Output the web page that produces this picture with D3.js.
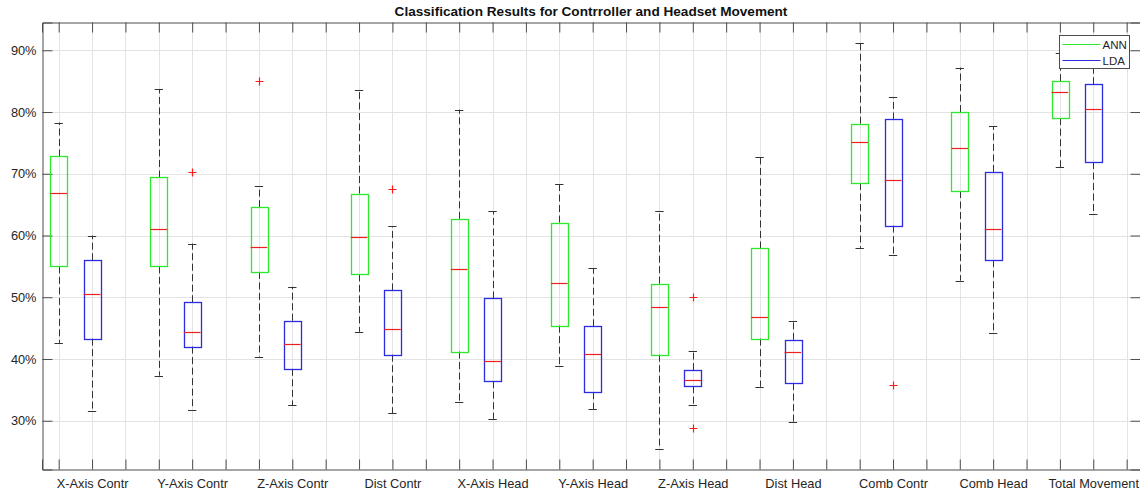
<!DOCTYPE html>
<html>
<head>
<meta charset="utf-8">
<script src="https://cdn.jsdelivr.net/npm/d3@7"></script>
<style>
  html, body { margin: 0; padding: 0; background: #fff; }
  svg { display: block; }
  text { font-family: Arial, "Liberation Sans", Helvetica, sans-serif; }
</style>
</head>
<body>
<svg id="chart" width="1140" height="493"></svg>
<script>
// Group labels (one per pair of boxes)
const categories = ["X-Axis Contr", "Y-Axis Contr", "Z-Axis Contr", "Dist Contr",
  "X-Axis Head", "Y-Axis Head", "Z-Axis Head", "Dist Head",
  "Comb Contr", "Comb Head", "Total Movement"];

const seriesNames = ["ANN", "LDA"];

// ANN accuracy statistics (%)
const annLowerWhisker = [42.6, 37.3, 40.4, 44.4, 33.0, 38.9, 25.4, 35.5, 58.0, 52.7, 71.1];
const annQ1           = [55.0, 55.0, 54.1, 53.7, 41.2, 45.4, 40.7, 43.3, 68.5, 67.2, 79.0];
const annMedian       = [66.9, 61.1, 58.2, 59.7, 54.6, 52.3, 48.4, 46.8, 75.1, 74.2, 83.3];
const annQ3           = [72.8, 69.4, 64.6, 66.8, 62.7, 62.1, 52.2, 57.9, 78.1, 80.0, 85.0];
const annUpperWhisker = [78.3, 83.7, 68.0, 83.5, 80.4, 68.4, 63.9, 72.7, 91.2, 87.2, 89.6];
const annOutliers     = [[], [], [85.1], [], [], [], [], [], [], [], []];

// LDA accuracy statistics (%)
const ldaLowerWhisker = [31.5, 31.8, 32.5, 31.2, 30.3, 31.9, 32.5, 29.8, 56.8, 44.2, 63.5];
const ldaQ1           = [43.3, 42.0, 38.4, 40.7, 36.4, 34.6, 35.6, 36.1, 61.6, 56.0, 71.9];
const ldaMedian       = [50.5, 44.4, 42.4, 44.9, 39.6, 40.8, 36.6, 41.1, 69.0, 61.1, 80.5];
const ldaQ3           = [56.0, 49.2, 46.2, 51.1, 49.8, 45.3, 38.2, 43.1, 78.8, 70.3, 84.5];
const ldaUpperWhisker = [60.0, 58.7, 51.7, 61.5, 63.9, 54.7, 41.3, 46.2, 82.4, 77.7, 88.3];
const ldaOutliers     = [[], [70.3], [], [67.6], [], [], [50.0, 28.9], [], [35.8], [], []];

// Y-axis tick values
const yTicks = [30, 40, 50, 60, 70, 80, 90];

const svg = d3.select("#chart");
const plot = { left: 42, right: 1140, top: 22.5, bottom: 469.5 };

const nSlots = categories.length * 3;           // ANN, LDA, spacer per group
const x = d3.scaleLinear().domain([0.5, 33.4]).range([plot.left, plot.right]);
const y = d3.scaleLinear().domain([22.1, 94.5]).range([plot.bottom, plot.top]);

const colors = { ANN: "#2ee82e", LDA: "#2b2be0" };
const axisColor = "#4d4d4d";
const gridColor = "#e3e3e3";
const crisp = v => Math.round(v) + 0.5;

// Build the table of boxes from the named arrays
const boxes = [];
categories.forEach((c, i) => {
  boxes.push({ series: "ANN", pos: i * 3 + 1, lo: annLowerWhisker[i], q1: annQ1[i], med: annMedian[i],
    q3: annQ3[i], hi: annUpperWhisker[i], out: annOutliers[i] });
  boxes.push({ series: "LDA", pos: i * 3 + 2, lo: ldaLowerWhisker[i], q1: ldaQ1[i], med: ldaMedian[i],
    q3: ldaQ3[i], hi: ldaUpperWhisker[i], out: ldaOutliers[i] });
});

const slots = d3.range(1, nSlots + 1);

// Grid
const grid = svg.append("g");
grid.selectAll("line.gx").data(slots).join("line")
  .attr("x1", d => crisp(x(d))).attr("x2", d => crisp(x(d)))
  .attr("y1", plot.top).attr("y2", plot.bottom)
  .attr("stroke", gridColor).attr("stroke-width", 1);
grid.selectAll("line.gy").data(yTicks).join("line")
  .attr("y1", d => crisp(y(d))).attr("y2", d => crisp(y(d)))
  .attr("x1", plot.left).attr("x2", plot.right)
  .attr("stroke", gridColor).attr("stroke-width", 1);

// Axes (inward ticks on all four sides)
const tickLen = 10;
const xAxis = d3.axisBottom(x).tickValues(slots).tickSize(-tickLen).tickPadding(9)
  .tickFormat(d => (d % 3 === 2) ? categories[(d - 2) / 3] : "");
const xAxisTop = d3.axisTop(x).tickValues(slots).tickSize(-tickLen).tickFormat("");
const yAxis = d3.axisLeft(y).tickValues(yTicks).tickSize(-tickLen).tickPadding(6)
  .tickFormat(d => d + "%");
const yAxisRight = d3.axisRight(y).tickValues(yTicks).tickSize(-tickLen).tickFormat("");

function styleAxis(g) {
  g.select(".domain").attr("stroke", axisColor);
  g.selectAll(".tick line").attr("stroke", axisColor);
  g.selectAll(".tick text").attr("fill", "#262626").attr("font-size", 12.8)
    .attr("font-family", "Arial, 'Liberation Sans', sans-serif");
}

svg.append("g").attr("transform", `translate(0,${plot.bottom})`).call(xAxis).call(styleAxis);
svg.append("g").attr("transform", `translate(0,${plot.top})`).call(xAxisTop).call(styleAxis);
svg.append("g").attr("transform", `translate(${plot.left + 0.5},0)`).call(yAxis).call(styleAxis);
svg.append("g").attr("transform", `translate(${plot.right + 0.5},0)`).call(yAxisRight).call(styleAxis);

// Box plots
const slotW = x(2) - x(1);
const boxW = slotW * 0.5;
const capW = slotW * 0.25;

const bg = svg.append("g");
const b = bg.selectAll("g.box").data(boxes).join("g").attr("class", "box");

// whiskers (dashed)
b.append("line")
  .attr("x1", d => crisp(x(d.pos))).attr("x2", d => crisp(x(d.pos)))
  .attr("y1", d => y(d.q3)).attr("y2", d => y(d.hi))
  .attr("stroke", "#333").attr("stroke-dasharray", "7,3.5");
b.append("line")
  .attr("x1", d => crisp(x(d.pos))).attr("x2", d => crisp(x(d.pos)))
  .attr("y1", d => y(d.q1)).attr("y2", d => y(d.lo))
  .attr("stroke", "#333").attr("stroke-dasharray", "7,3.5");
// caps
["hi", "lo"].forEach(k => {
  b.append("line")
    .attr("x1", d => x(d.pos) - capW / 2).attr("x2", d => x(d.pos) + capW / 2)
    .attr("y1", d => crisp(y(d[k]))).attr("y2", d => crisp(y(d[k])))
    .attr("stroke", "#333");
});
// box
b.append("rect")
  .attr("x", d => crisp(x(d.pos) - boxW / 2))
  .attr("width", Math.round(boxW))
  .attr("y", d => crisp(y(d.q3)))
  .attr("height", d => Math.round(y(d.q1)) - Math.round(y(d.q3)))
  .attr("fill", "none")
  .attr("stroke", d => colors[d.series]).attr("stroke-width", 1.3);
// median
b.append("line")
  .attr("x1", d => x(d.pos) - boxW / 2).attr("x2", d => x(d.pos) + boxW / 2)
  .attr("y1", d => crisp(y(d.med))).attr("y2", d => crisp(y(d.med)))
  .attr("stroke", "#ee2020").attr("stroke-width", 1.2);
// outliers (red crosses)
const m = 4;
b.selectAll("path.out").data(d => d.out.map(v => ({ pos: d.pos, v })))
  .join("path").attr("class", "out")
  .attr("d", o => {
    const cx = crisp(x(o.pos)), cy = crisp(y(o.v));
    return `M${cx - m},${cy}H${cx + m}M${cx},${cy - m}V${cy + m}`;
  })
  .attr("stroke", "#ff1a1a").attr("stroke-width", 1.2).attr("fill", "none");

// Title
svg.append("text")
  .attr("x", (plot.left + plot.right) / 2).attr("y", 16)
  .attr("text-anchor", "middle").attr("font-weight", "bold").attr("font-size", 13.6)
  .attr("fill", "#111")
  .text("Classification Results for Contrroller and Headset Movement");

// Legend
const lg = svg.append("g").attr("transform", "translate(1059.5,35.5)");
lg.append("rect").attr("width", 70).attr("height", 33)
  .attr("fill", "#fff").attr("stroke", "#4d4d4d");
seriesNames.forEach((s, i) => {
  const yy = 9 + i * 16;
  lg.append("line").attr("x1", 3).attr("x2", 41).attr("y1", yy).attr("y2", yy)
    .attr("stroke", colors[s]).attr("stroke-width", 1.2);
  lg.append("text").attr("x", 43).attr("y", yy + 4.5)
    .attr("font-size", 11.5).attr("fill", "#262626").text(s);
});
</script>
</body>
</html>
